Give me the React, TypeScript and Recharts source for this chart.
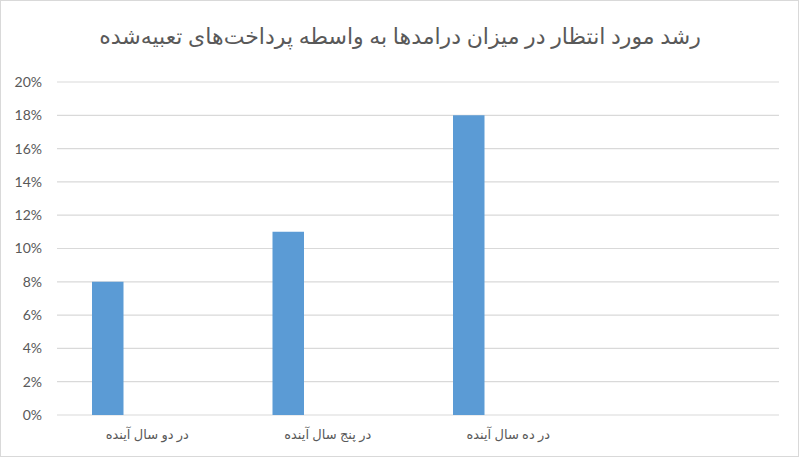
import { Bar, BarChart, CartesianGrid, XAxis, YAxis } from "recharts"

const categories = ["در دو سال آینده", "در پنج سال آینده", "در ده سال آینده", ""]
const growth = [0.08, 0.11, 0.18, null]
const spare = [null, null, null, null]
const yTicks = [0, 0.02, 0.04, 0.06, 0.08, 0.1, 0.12, 0.14, 0.16, 0.18, 0.2]
const title = "رشد مورد انتظار در میزان درامدها به واسطه پرداخت‌های تعبیه‌شده"

const data = categories.map((name, i) => ({ name, growth: growth[i], spare: spare[i] }))

const font = "Lato, 'DejaVu Sans', sans-serif"
const grey = "#595959"

export default function App() {
  return (
    <div style={{ position: "absolute", left: 0, top: 0, width: 800, height: 458, background: "#fff", fontFamily: font }}>
      <div style={{ position: "absolute", left: 0, top: 0, width: 797, height: 455, border: "1px solid #d9d9d9" }} />
      <div
        style={{
          position: "absolute",
          left: 0,
          top: 22,
          width: 800,
          textAlign: "center",
          direction: "rtl",
          fontSize: 22,
          color: grey,
        }}
      >
        {title}
      </div>
      <BarChart
        width={800}
        height={458}
        data={data}
        margin={{ top: 82, right: 21, bottom: 0, left: 0 }}
        barGap={48}
        barSize={31.5}
      >
        <CartesianGrid stroke="#d9d9d9" strokeWidth={1.2} vertical={false} />
        <XAxis
          dataKey="name"
          height={43}
          axisLine={false}
          tickLine={false}
          tickSize={0}
          tickMargin={15}
          interval={0}
          tick={{ fill: grey, fontSize: 13, fontFamily: font }}
        />
        <YAxis
          width={57}
          domain={[0, 0.2]}
          ticks={yTicks}
          axisLine={false}
          tickLine={false}
          tickSize={0}
          tickMargin={15}
          tickFormatter={(v: number) => `${Math.round(v * 100)}%`}
          tick={{ fill: grey, fontSize: 14, fontFamily: font }}
        />
        <Bar dataKey="growth" fill="#5b9bd5" isAnimationActive={false} />
        <Bar dataKey="spare" fill="#ed7d31" isAnimationActive={false} />
      </BarChart>
    </div>
  )
}
